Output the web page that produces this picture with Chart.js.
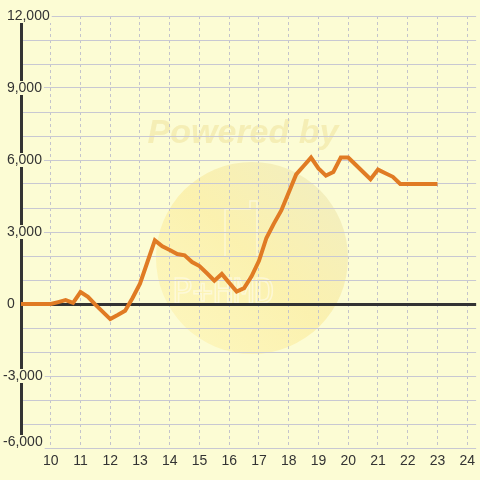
<!DOCTYPE html>
<html>
<head>
<meta charset="utf-8">
<script src="https://cdn.jsdelivr.net/npm/chart.js@4/dist/chart.umd.min.js"></script>
<style>
    body { margin: 0; background: #fcfcd4; }
    canvas { display: block; }
</style>
</head>
<body>
<canvas id="saldoChart" width="480" height="480"></canvas>
<script>
// Dados do gráfico
const horas = [
    9, 9.25, 9.5, 9.75, 10, 10.25, 10.5, 10.75, 11, 11.25, 11.5, 11.75,
    12, 12.25, 12.5, 12.75, 13, 13.25, 13.5, 13.75, 14, 14.25, 14.5, 14.75,
    15, 15.25, 15.5, 15.75, 16, 16.25, 16.5, 16.75, 17, 17.25, 17.5, 17.75,
    18, 18.25, 18.5, 18.75, 19, 19.25, 19.5, 19.75, 20, 20.25, 20.5, 20.75,
    21, 21.25, 21.5, 21.75, 22, 22.25, 22.5, 22.75, 23
];
const saldo = [
    0, 0, 0, 0, 0, 80, 160, 50, 500, 300, -30, -330,
    -630, -460, -280, 250, 850, 1750, 2650, 2400, 2250, 2080, 2030, 1750,
    1580, 1280, 970, 1250, 880, 520, 660, 1150, 1800, 2750, 3350, 3900,
    4650, 5400, 5750, 6100, 5650, 5350, 5500, 6100, 6100, 5800, 5500, 5200,
    5600, 5450, 5300, 5000, 5000, 5000, 5000, 5000, 5000
];
const yTickLabels = [-6000, -3000, 0, 3000, 6000, 9000, 12000];
const xTickLabels = [10, 11, 12, 13, 14, 15, 16, 17, 18, 19, 20, 21, 22, 23, 24];

const corFundo = '#fcfcd4';

// Fundo + marca d'água
const fundoPlugin = {
    id: 'fundo',
    beforeDraw(chart) {
        const ctx = chart.ctx;
        ctx.save();
        ctx.fillStyle = corFundo;
        ctx.fillRect(0, 0, chart.width, chart.height);

        const cx = 252, cy = 258, r = 96;
        const grad = ctx.createLinearGradient(cx - r, cy + r, cx + r, cy - r);
        grad.addColorStop(0, 'rgba(255, 232, 130, 0.25)');
        grad.addColorStop(0.5, 'rgba(250, 225, 120, 0.4)');
        grad.addColorStop(1, 'rgba(225, 220, 175, 0.45)');
        ctx.fillStyle = grad;
        ctx.beginPath();
        ctx.arc(cx, cy, r, 0, Math.PI * 2);
        ctx.fill();

        // logo apagado
        ctx.strokeStyle = 'rgba(255, 255, 255, 0.45)';
        ctx.lineWidth = 1.5;
        ctx.beginPath();
        ctx.moveTo(225, 257);
        ctx.lineTo(225, 209);
        ctx.lineTo(250, 209);
        ctx.lineTo(250, 201);
        ctx.lineTo(257, 201);
        ctx.lineTo(257, 257);
        ctx.stroke();
        ctx.font = '34px "DejaVu Sans Mono", monospace';
        ctx.textAlign = 'left';
        ctx.textBaseline = 'alphabetic';
        ctx.strokeText('P+HMD', 172, 303);

        ctx.fillStyle = 'rgba(230, 205, 110, 0.3)';
        ctx.font = 'italic bold 34px "Liberation Sans", Arial, sans-serif';
        ctx.textAlign = 'center';
        ctx.textBaseline = 'middle';
        ctx.fillText('Powered by', 243, 134);
        ctx.restore();

        // rótulo de baixo fica um pouco acima da linha
        const itens = chart.scales.y.getLabelItems(chart.chartArea);
        itens.forEach(item => {
            if (item.label === '-6,000') item.options.translation[1] -= 6;
        });
    }
};

const ctx = document.getElementById('saldoChart').getContext('2d');
const saldoChart = new Chart(ctx, {
    type: 'line',
    data: {
        datasets: [{
            data: horas.map((h, i) => ({ x: h, y: saldo[i] })),
            borderColor: '#e07b24',
            borderWidth: 4,
            pointRadius: 0,
            tension: 0,
            fill: false
        }]
    },
    options: {
        responsive: false,
        animation: false,
        events: [],
        layout: { padding: { left: 3, top: 16, right: 0, bottom: 0 } },
        plugins: {
            legend: { display: false },
            tooltip: { enabled: false }
        },
        scales: {
            x: {
                type: 'linear',
                min: 9,
                max: 24.3,
                afterFit: (scale) => { scale.height = 32; },
                afterBuildTicks: (scale) => {
                    scale.ticks = [9].concat(xTickLabels).map(v => ({ value: v }));
                },
                ticks: {
                    stepSize: 1,
                    includeBounds: false,
                    autoSkip: false,
                    maxRotation: 0,
                    padding: 5,
                    color: '#333',
                    font: { family: '"Liberation Sans", Arial, sans-serif', size: 14 },
                    callback: (v) => xTickLabels.includes(v) ? String(v) : ''
                },
                grid: {
                    color: '#c4c4cc',
                    lineWidth: 1,
                    drawTicks: false
                },
                border: { display: false, dash: [3, 3] }
            },
            y: {
                min: -6000,
                max: 12000,
                afterFit: (scale) => { scale.width = 18; },
                ticks: {
                    stepSize: 1000,
                    autoSkip: false,
                    mirror: true,
                    crossAlign: 'near',
                    padding: -18,
                    color: '#333',
                    font: { family: '"Liberation Sans", Arial, sans-serif', size: 14, lineHeight: 1 },
                    showLabelBackdrop: true,
                    backdropColor: corFundo,
                    backdropPadding: { top: 0, bottom: 0, left: 1, right: 2 },
                    callback: (v) => {
                        if (!yTickLabels.includes(v)) return '';
                        return (v < 0 ? '' : ' ') + v.toLocaleString('en-US');
                    }
                },
                grid: {
                    color: (c) => c.tick && c.tick.value === 0 ? '#333333' : '#c8c8d2',
                    lineWidth: (c) => c.tick && c.tick.value === 0 ? 3 : 1,
                    drawTicks: false
                },
                border: { display: true, color: '#333333', width: 3 }
            }
        }
    },
    plugins: [fundoPlugin]
});
</script>
</body>
</html>
